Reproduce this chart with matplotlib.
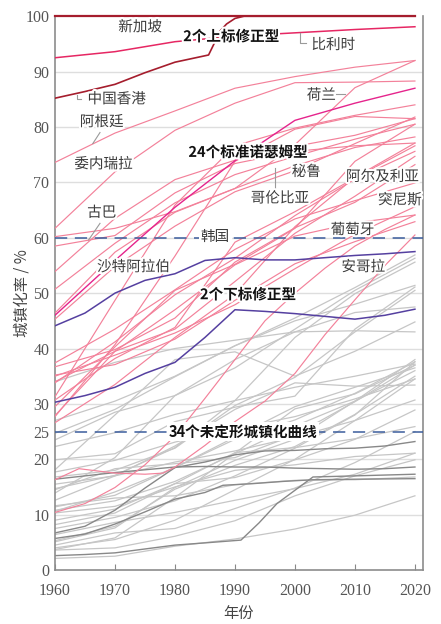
import matplotlib
matplotlib.use('Agg')
import matplotlib.pyplot as plt
import matplotlib.patheffects as pe

# 年份轴
years = [1960, 1970, 1980, 1990, 2000, 2010, 2020]
years5 = [1960, 1965, 1970, 1975, 1980, 1985, 1990, 1995, 2000, 2005, 2010, 2015, 2020]

# 上标修正型：新加坡、中国香港
singapore_years = [1960, 2020]
singapore = [100, 100]
hongkong_years = [1960, 1965, 1970, 1975, 1980, 1985.6, 1986.5, 1987.5, 1988.6, 1990, 1991.5, 2020]
hongkong = [85.2, 86.4, 87.7, 89.8, 91.7, 93.0, 95.0, 97.3, 98.6, 99.6, 100, 100]

# 下标修正型
lower_a = [44.1, 46.4, 50.0, 52.3, 53.5, 55.9, 56.4, 56.0, 56.0, 56.4, 56.8, 57.1, 57.5]
lower_b = [30.3, 31.5, 33.0, 35.5, 37.5, 42.0, 47.0, 46.7, 46.3, 45.8, 45.3, 46.0, 47.1]

# 标准诺瑟姆型（突出显示的三条）
belgium = [92.5, 93.6, 95.4, 96.4, 97.0, 97.6, 98.1]
brazil = [46.0, 55.9, 65.5, 73.9, 81.2, 84.3, 87.0]
china_years = [1960, 1964, 1970, 1975, 1978, 1980, 1985, 1990, 1995, 2000, 2005, 2010, 2015, 2020]
china = [16.3, 18.3, 17.5, 17.3, 17.5, 18.6, 22.5, 26.8, 30.5, 35.5, 42.5, 48.8, 55.0, 60.5]
angola = [10.4, 12.0, 14.9, 19.0, 24.2, 31.0, 38.0, 45.0, 50.0, 54.5, 58.5, 61.5, 64.1]

# 其余标准诺瑟姆型（按十年取值）
standard = [
    [73.6, 78.9, 82.9, 87.0, 89.1, 90.8, 92.0],
    [61.7, 71.9, 79.4, 84.3, 88.0, 88.1, 88.3],
    [60.2, 61.7, 64.7, 68.9, 76.8, 87.1, 92.0],
    [58.5, 60.4, 68.1, 73.4, 75.6, 76.6, 77.1],
    [53.9, 63.5, 70.5, 74.0, 76.5, 78.5, 81.5],
    [50.7, 59.0, 66.3, 71.4, 74.7, 77.8, 80.5],
    [46.4, 57.4, 64.6, 68.9, 73.0, 76.3, 78.2],
    [45.3, 54.8, 62.1, 68.3, 72.1, 77.0, 81.8],
    [31.3, 48.7, 65.9, 76.6, 79.8, 82.1, 84.0],
    [27.7, 40.7, 56.7, 73.8, 79.6, 81.9, 81.5],
    [29.5, 40.3, 50.5, 55.2, 61.7, 73.8, 80.5],
    [30.7, 38.2, 43.8, 59.2, 64.7, 70.8, 76.6],
    [33.8, 41.2, 49.7, 56.3, 64.0, 70.6, 75.6],
    [26.6, 33.5, 42.0, 49.8, 62.0, 70.9, 77.1],
    [27.9, 39.5, 43.5, 52.1, 60.8, 67.5, 74.7],
    [36.7, 39.8, 45.5, 55.6, 61.8, 66.4, 73.2],
    [37.4, 43.5, 50.6, 57.9, 63.4, 66.7, 69.9],
    [35.2, 37.1, 41.7, 48.7, 55.3, 59.3, 62.9],
    [34.0, 39.5, 47.0, 55.1, 60.3, 62.7, 64.1],
    [35.0, 38.8, 42.8, 47.9, 54.4, 60.6, 65.6],
]

# 未定形曲线（深灰突出的四条）
dark_a = [16.4, 17.0, 17.6, 18.1, 18.6, 18.7, 18.6, 18.6, 18.4, 18.3, 18.2, 18.3, 18.6]
dark_b = [6.7, 7.9, 10.8, 14.8, 18.5, 19.5, 20.8, 21.5, 21.6, 21.9, 22.0, 22.4, 23.2]
dark_c_years = [1960, 1965, 1970, 1975, 1980, 1985, 1988, 1993, 1998, 2003, 2010, 2020]
dark_c = [5.7, 6.5, 8.3, 10.5, 12.8, 14.0, 15.3, 15.6, 16.0, 16.3, 16.4, 16.5]
dark_d_years = [1960, 1965, 1970, 1975, 1980, 1985, 1991, 1994, 1997, 2000, 2003, 2010, 2020]
dark_d = [2.6, 2.8, 3.1, 3.8, 4.5, 4.9, 5.4, 8.5, 12.0, 14.4, 16.8, 17.0, 17.3]

# 其余未定形曲线（按十年取值）
undetermined = [
    [34.0, 37.5, 40.0, 41.5, 43.0, 43.2, 43.0],
    [27.0, 30.5, 35.0, 40.5, 45.0, 48.0, 51.4],
    [24.7, 29.0, 34.9, 40.5, 45.5, 51.0, 56.9],
    [23.5, 28.5, 31.5, 36.5, 43.5, 50.5, 56.3],
    [22.3, 24.8, 28.1, 30.6, 33.0, 35.0, 37.2],
    [19.9, 21.0, 26.8, 29.4, 31.4, 43.5, 51.1],
    [18.1, 28.0, 38.0, 39.4, 35.0, 39.5, 44.8],
    [17.7, 19.8, 23.1, 25.5, 27.7, 30.9, 34.5],
    [16.8, 18.0, 22.0, 29.7, 34.8, 43.0, 50.5],
    [15.5, 17.0, 19.5, 21.5, 24.0, 27.0, 30.7],
    [14.7, 17.1, 22.1, 30.6, 42.0, 49.9, 55.6],
    [14.5, 18.3, 19.2, 20.3, 24.4, 30.4, 37.0],
    [13.9, 20.3, 31.5, 38.0, 43.0, 46.5, 47.5],
    [12.6, 17.0, 22.4, 29.0, 33.8, 33.2, 33.4],
    [11.4, 13.5, 18.5, 24.0, 29.5, 33.0, 36.5],
    [10.8, 12.5, 16.0, 21.0, 26.0, 30.5, 36.0],
    [10.3, 11.5, 15.0, 18.0, 19.0, 20.5, 21.1],
    [9.0, 11.0, 15.6, 21.2, 22.1, 23.7, 25.9],
    [8.2, 10.3, 15.6, 16.7, 19.9, 23.6, 28.9],
    [7.5, 9.5, 12.5, 17.0, 22.0, 28.0, 37.6],
    [6.4, 8.6, 10.4, 12.6, 14.7, 17.3, 21.1],
    [5.1, 7.6, 14.9, 19.8, 23.6, 30.5, 38.0],
    [5.3, 7.9, 14.6, 18.9, 22.3, 28.1, 35.0],
    [4.5, 6.7, 7.5, 11.1, 14.8, 19.4, 25.0],
    [4.0, 5.5, 9.0, 14.5, 20.0, 27.0, 34.5],
    [3.6, 4.0, 6.1, 8.9, 13.4, 17.0, 19.9],
    [2.1, 2.5, 4.3, 5.6, 7.4, 9.9, 13.4],
    [11.6, 13.0, 13.4, 15.4, 16.2, 16.3, 16.8],
    [10.6, 14.1, 18.5, 23.6, 27.1, 31.9, 37.6],
    [3.7, 5.8, 13.1, 21.1, 29.1, 31.8, 37.0],
]

yticks = [0, 10, 20, 25, 30, 40, 50, 60, 70, 80, 90, 100]
xticks = [1960, 1970, 1980, 1990, 2000, 2010, 2020]

plt.rcParams['font.family'] = ['Noto Sans CJK SC', 'DejaVu Sans']

c_gray = '#c6c6c6'
c_dgray = '#888888'
c_pink = '#f3819a'
c_belgium = '#e62763'
c_brazil = '#e5248c'
c_darkred = '#a51d2d'
c_purple = '#5540a0'
c_dash = '#3a5c9c'

fig = plt.figure(figsize=(4.41, 6.24), dpi=100)
ax = fig.add_axes([0.1247, 0.0865, 0.8343, 0.8875])

for y in range(10, 100, 10):
    ax.axhline(y, color='#dedede', lw=1.0, zorder=0)

for s in undetermined:
    ax.plot(years, s, color=c_gray, lw=0.9, zorder=1)
ax.plot(years5, dark_a, color=c_dgray, lw=1.0, zorder=2)
ax.plot(years5, dark_b, color=c_dgray, lw=1.0, zorder=2)
ax.plot(dark_c_years, dark_c, color=c_dgray, lw=1.0, zorder=2)
ax.plot(dark_d_years, dark_d, color=c_dgray, lw=1.0, zorder=2)

for s in standard:
    ax.plot(years, s, color=c_pink, lw=0.85, zorder=3)
ax.plot(china_years, china, color=c_pink, lw=0.85, zorder=3)
ax.plot(years5, angola, color=c_pink, lw=0.85, zorder=3)
ax.plot(years, brazil, color=c_brazil, lw=1.0, zorder=4)
ax.plot(years, belgium, color=c_belgium, lw=1.1, zorder=4)

ax.plot(years5, lower_a, color=c_purple, lw=1.1, zorder=4)
ax.plot(years5, lower_b, color=c_purple, lw=1.1, zorder=4)

ax.plot(hongkong_years, hongkong, color=c_darkred, lw=1.2, zorder=5)
ax.plot(singapore_years, singapore, color=c_darkred, lw=1.6, zorder=5, clip_on=False)

for y in (60, 25):
    ax.axhline(y, color=c_dash, lw=1.1, dashes=(8, 5), zorder=6)

halo = [pe.withStroke(linewidth=3, foreground='white')]
lab = dict(fontsize=10.5, color='#3c3c3c', ha='center', va='center', zorder=8, path_effects=halo)
ax.text(1974.2, 98.0, '新加坡', **lab)
ax.text(2006.4, 94.8, '比利时', **lab)
ax.text(1970.3, 85.0, '中国香港', **lab)
ax.text(1967.8, 80.9, '阿根廷', **lab)
ax.text(1968.1, 73.3, '委内瑞拉', **lab)
ax.text(2004.4, 85.7, '荷兰', **lab)
ax.text(2001.9, 71.9, '秘鲁', **lab)
ax.text(1997.5, 67.1, '哥伦比亚', **lab)
ax.text(2014.6, 71.0, '阿尔及利亚', **lab)
ax.text(2017.5, 66.8, '突尼斯', **lab)
ax.text(1967.8, 64.5, '古巴', **lab)
ax.text(2009.6, 61.4, '葡萄牙', **lab)
ax.text(1973.1, 54.7, '沙特阿拉伯', **lab)
ax.text(2011.4, 54.7, '安哥拉', **lab)
ax.text(1986.7, 60.2, '韩国', fontsize=10.5, color='#3c3c3c', ha='center', va='center', zorder=8,
        bbox=dict(facecolor='white', edgecolor='none', pad=1.5))

bold = dict(fontsize=10.5, color='#111111', weight='bold', ha='center', va='center', zorder=8, path_effects=halo)
ax.text(1989.4, 96.4, '2个上标修正型', **bold)
ax.text(1992.2, 75.5, '24个标准诺瑟姆型', **bold)
ax.text(1992.2, 49.8, '2个下标修正型', **bold)
ax.text(1991.3, 25.0, '34个未定形城镇化曲线', fontsize=10.5, color='#111111', weight='bold', ha='center',
        va='center', zorder=8, bbox=dict(facecolor='white', edgecolor='none', pad=1.0))

# 引线
lead = dict(color='#9a9a9a', lw=0.8, zorder=7)
ax.plot([2000.8, 2000.8, 2001.9], [96.9, 95.1, 95.1], **lead)
ax.plot([1963.6, 1963.6, 1964.4], [85.8, 85.0, 85.0], **lead)
ax.plot([1967.5, 1966.3], [79.0, 77.0], **lead)
ax.plot([2006.9, 2008.3], [86.0, 86.0], **lead)
ax.plot([1996.7, 1996.7], [69.0, 72.6], **lead)
ax.plot([1967.5, 1965.6], [62.6, 59.6], **lead)

ax.set_xlim(1960, 2021.33)
ax.set_ylim(0, 100)
ax.set_xticks(xticks)
ax.set_yticks(yticks)
tickfont = dict(family='Liberation Serif', size=11.5, color='#555555')
ax.set_xticklabels([str(x) for x in xticks], fontdict=tickfont)
ax.set_yticklabels([str(y) for y in yticks], fontdict=tickfont)
ax.tick_params(axis='x', direction='in', length=4, color='#888888', width=0.8, pad=9)
ax.tick_params(axis='y', length=0, pad=4)
for sp in ax.spines.values():
    sp.set_color('#8c8c8c')
    sp.set_linewidth(1.2)
ax.spines['top'].set_visible(False)

ax.set_ylabel('城镇化率 / %', fontsize=11, color='#444444', labelpad=-4)
ax.set_xlabel('年份', fontsize=11, color='#444444', labelpad=5)

fig.savefig('out.png', dpi=100)
